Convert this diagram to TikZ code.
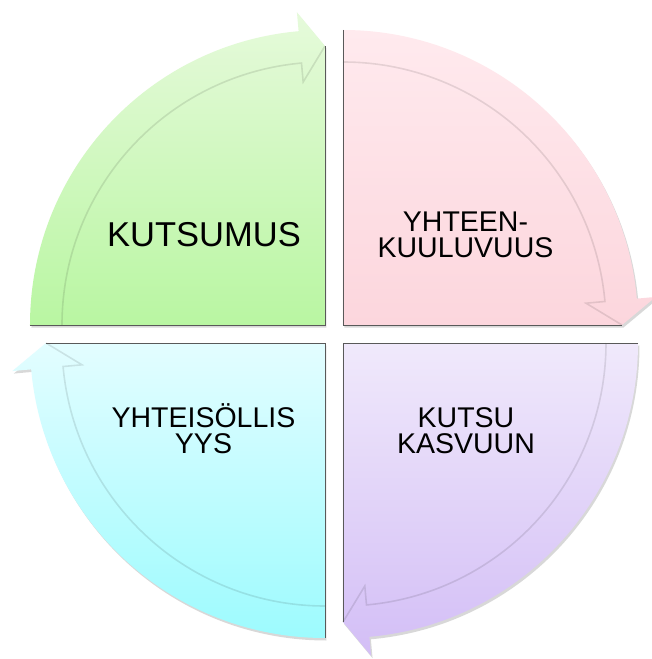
\documentclass[tikz,border=0pt]{standalone}
\usepackage{fontspec}
\setmainfont{Liberation Sans}
\usetikzlibrary{shadows}
\definecolor{gTop}{HTML}{E6FADB}\definecolor{gBot}{HTML}{B9F6A2}
\definecolor{pTop}{HTML}{FFEAEE}\definecolor{pBot}{HTML}{FCD6DD}
\definecolor{vTop}{HTML}{F0E9FB}\definecolor{vBot}{HTML}{D3BEF6}
\definecolor{bTop}{HTML}{E3FDFF}\definecolor{bBot}{HTML}{9DFBFE}
\newcommand\drawquad[5]{%
 \begin{scope}[shift={(#1,#2)}]
  \pgfmathsetmacro\aE{#3-90}\pgfmathsetmacro\aB{#3-90+5.13}
  \path[quad,top color=#4,bottom color=#5] (0,0) -- (#3:295)
     arc[start angle=#3,end angle=\aB,radius=295] -- (\aB:314) -- (\aE:279) -- cycle;
  \draw[seam] (#3:263) arc[start angle=#3,end angle=\aB,radius=263] -- (\aB:244) -- (\aE:279);
  \draw[edgeline] (#3:295) -- (0,0) -- (\aE:279);
 \end{scope}}
\begin{document}
\begin{tikzpicture}[x=1pt,y=1pt,
  quad/.style={drop shadow={opacity=0.3,shadow xshift=1.5pt,shadow yshift=-2.5pt}},
  seam/.style={draw=black,opacity=0.1,line width=1.6pt},
  edgeline/.style={draw=gray!70!black,line width=0.6pt},
  lbl/.style={align=center,font=\fontsize{28.5}{26}\selectfont,text=black,inner sep=0pt}]
\useasboundingbox (-334,-325) rectangle (317,334);
\fill[white] (-334,-325) rectangle (317,334);
\drawquad{-9}{9}{180}{gTop}{gBot}
\drawquad{9}{9}{90}{pTop}{pBot}
\drawquad{9}{-9}{0}{vTop}{vBot}
\drawquad{-9}{-9}{270}{bTop}{bBot}
\node[lbl] (kutsumus) at (-130,99.5) {\fontsize{34.5}{40}\selectfont KUTSUMUS};
\node[lbl] (yhteenkuuluvuus) at (131.5,99.5) {YHTEEN-\\KUULUVUUS};
\node[lbl] (yhteisollisyys) at (-130.5,-94.5) {YHTEISÖLLIS\\YYS};
\node[lbl] (kutsukasvuun) at (132,-97) {KUTSU\\KASVUUN};
\end{tikzpicture}
\end{document}
